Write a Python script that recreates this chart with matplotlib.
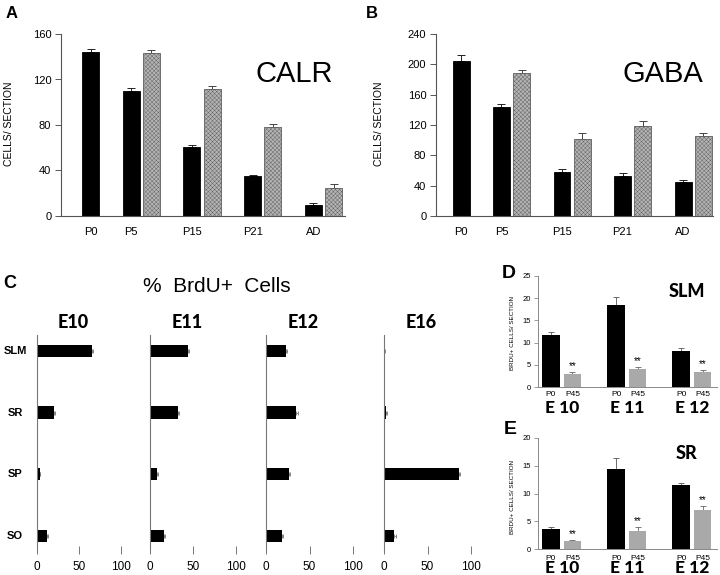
import matplotlib
matplotlib.use('Agg')
import matplotlib.pyplot as plt
from matplotlib.transforms import blended_transform_factory

plt.rcParams['font.family'] = ['Liberation Sans', 'DejaVu Sans']
plt.rcParams['hatch.linewidth'] = 0.3

# panel A / B : cells per section
ages = ['P0', 'P5', 'P15', 'P21', 'AD']
calr_black = [144, 110, 61, 35, 10]
calr_black_err = [3, 2.5, 1.5, 1, 1]
calr_hatch = [None, 143, 112, 78, 25]
calr_hatch_err = [None, 2.5, 2.5, 3, 3]
gaba_black = [205, 144, 58, 53, 45]
gaba_black_err = [7, 4, 4, 4, 2.5]
gaba_hatch = [None, 188, 102, 119, 106]
gaba_hatch_err = [None, 5, 7, 6, 4]

# panel C : % BrdU+ cells
layers = ['SLM', 'SR', 'SP', 'SO']
ages_c = ['E10', 'E11', 'E12', 'E16']
brdu = {
    'E10': [65, 20, 3, 12],
    'E11': [44, 32, 8, 16],
    'E12': [23, 35, 26, 18],
    'E16': [0.5, 2, 86, 12],
}
brdu_err = {
    'E10': [1.5, 1.5, 1, 1.5],
    'E11': [1.5, 1.5, 1, 1.5],
    'E12': [1.5, 1.5, 1.5, 1.5],
    'E16': [0.5, 1, 1.5, 1.5],
}

# panels D / E
groups_de = ['E 10', 'E 11', 'E 12']
slm_p0 = [11.8, 18.5, 8.1]
slm_p0_err = [0.7, 1.7, 0.6]
slm_p45 = [3.0, 4.0, 3.4]
slm_p45_err = [0.4, 0.4, 0.4]
sr_p0 = [3.6, 14.5, 11.5]
sr_p0_err = [0.3, 1.9, 0.4]
sr_p45 = [1.4, 3.3, 7.0]
sr_p45_err = [0.2, 0.6, 0.7]

W, H = 720, 575
fig = plt.figure(figsize=(7.2, 5.75), dpi=100)


def px_axes(x0, y0, x1, y1):
    return fig.add_axes([x0 / W, 1 - y1 / H, (x1 - x0) / W, (y1 - y0) / H])


def ftext(x, y, s, **kw):
    fig.text(x / W, 1 - y / H, s, **kw)


axis_col = '#555555'
hatch_face = '#b4b4b4'
hatch_edge = '#5e5e5e'
heavy = ['Lato', 'DejaVu Sans']


def cells_panel(rect, black, black_err, hatch, hatch_err, ymax, step, left, right, name):
    ax = px_axes(*rect)
    xb = [0, 1, 2.5, 4, 5.5]
    w = 0.42
    ax.bar(xb, black, w, color='black', edgecolor='black', linewidth=0.6, zorder=2)
    ax.errorbar(xb, black, yerr=[[0] * 5, black_err], fmt='none', ecolor='#222222',
                elinewidth=0.7, capsize=3, capthick=0.7, zorder=1)
    xh = [x + 0.5 for x, v in zip(xb, hatch) if v is not None]
    vh = [v for v in hatch if v is not None]
    eh = [e for e in hatch_err if e is not None]
    ax.bar(xh, vh, w, color=hatch_face, edgecolor=hatch_edge, hatch='xxxxxxxx',
           linewidth=0.6, zorder=2)
    ax.errorbar(xh, vh, yerr=[[0] * len(eh), eh], fmt='none', ecolor='#444444',
                elinewidth=0.7, capsize=3, capthick=0.7, zorder=1)
    ax.set_xlim(left, right)
    ax.set_ylim(0, ymax)
    ax.set_yticks(range(0, ymax + 1, step))
    ax.set_xticks(xb)
    ax.set_xticklabels(ages)
    for s in ['top', 'right']:
        ax.spines[s].set_visible(False)
    for s in ['left', 'bottom']:
        ax.spines[s].set_color(axis_col)
        ax.spines[s].set_linewidth(0.8)
    ax.tick_params(axis='y', length=4, width=0.7, color=axis_col, labelsize=8, pad=3)
    ax.tick_params(axis='x', length=0, labelsize=8, pad=8)
    ax.text(0.82, 0.78, name, transform=ax.transAxes, fontsize=21, ha='center', va='center')
    return ax


cells_panel((61, 34, 345, 216), calr_black, calr_black_err, calr_hatch, calr_hatch_err,
            160, 40, -0.73, 6.28, 'CALR')
cells_panel((436, 34, 713, 216), gaba_black, gaba_black_err, gaba_hatch, gaba_hatch_err,
            240, 40, -0.62, 6.24, 'GABA')
ftext(9, 124, 'CELLS/ SECTION', fontsize=7.5, rotation=90, ha='center', va='center')
ftext(379, 124, 'CELLS/ SECTION', fontsize=7.5, rotation=90, ha='center', va='center')

ftext(12, 13, 'A', fontsize=12, fontweight='bold', ha='center', va='center')
ftext(372, 13, 'B', fontsize=12, fontweight='bold', ha='center', va='center')

# panel C
ftext(10, 284, 'C', fontsize=13, fontweight='bold', ha='center', va='center')
ftext(217, 286, '%  BrdU+  Cells', fontsize=15, ha='center', va='center')
c_lefts = [(37, 121), (150, 236), (266, 353), (384, 471)]
for i, age in enumerate(ages_c):
    x0, x100 = c_lefts[i]
    ax = px_axes(x0, 335, x100 + 4, 550)
    ypos = list(range(len(layers)))
    ax.barh(ypos, brdu[age], height=0.2, color='black', zorder=2)
    ax.errorbar(brdu[age], ypos, xerr=[[0] * 4, brdu_err[age]], fmt='none',
                ecolor='#777777', elinewidth=0.6, capsize=1.5, capthick=0.6, zorder=1)
    ax.set_xlim(0, 100 * (x100 + 4 - x0) / (x100 - x0))
    ax.set_ylim(3.23, -0.26)
    ax.set_xticks([0, 50, 100])
    ax.set_yticks([])
    for s in ['top', 'right', 'bottom']:
        ax.spines[s].set_visible(False)
    ax.spines['left'].set_color('#777777')
    ax.spines['left'].set_linewidth(0.8)
    ax.tick_params(axis='x', direction='inout', length=6, width=0.7, color='#777777',
                   labelsize=8.5, pad=5)
    ftext((x0 + x100) / 2 - 6, 323, age, fontsize=13, fontweight='black',
          family=heavy, ha='center', va='center')
    if i == 0:
        tr = blended_transform_factory(fig.transFigure, ax.transData)
        for j, lay in enumerate(layers):
            ax.text(15 / W, j, lay, transform=tr, fontsize=8, fontweight='bold',
                    ha='center', va='center')


def small_panel(rect, p0, p0_err, p45, p45_err, ymax, name, label_y, group_y):
    ax = px_axes(*rect)
    x = [0, 1, 2]
    off = 0.33
    w = 0.27
    ax.bar(x, p0, w, color='black', zorder=2)
    ax.errorbar(x, p0, yerr=[[0] * 3, p0_err], fmt='none', ecolor='#555555',
                elinewidth=0.6, capsize=2.5, capthick=0.6, zorder=1)
    x45 = [v + off for v in x]
    ax.bar(x45, p45, w, color='#a9a9a9', zorder=2)
    ax.errorbar(x45, p45, yerr=[[0] * 3, p45_err], fmt='none', ecolor='#666666',
                elinewidth=0.6, capsize=2.5, capthick=0.6, zorder=1)
    for xi, v, e in zip(x45, p45, p45_err):
        ax.text(xi, v + e + 0.2, '**', fontsize=7, ha='center', va='bottom')
    ax.set_xlim(-0.2, 2.55)
    ax.set_ylim(0, ymax)
    ax.set_yticks(range(0, ymax + 1, 5))
    ax.set_xticks([])
    for s in ['top', 'right']:
        ax.spines[s].set_visible(False)
    for s in ['left', 'bottom']:
        ax.spines[s].set_color('#888888')
        ax.spines[s].set_linewidth(0.7)
    ax.tick_params(axis='y', length=3, width=0.6, color='#888888', labelsize=5.5, pad=2)
    ax.text(0.83, 0.86, name, transform=ax.transAxes, fontsize=13, fontweight='black',
            family=heavy, ha='center', va='center')
    tr = blended_transform_factory(ax.transData, fig.transFigure)
    for xi, g in zip(x, groups_de):
        ax.text(xi, 1 - label_y / H, 'P0', transform=tr, fontsize=6, ha='center', va='center')
        ax.text(xi + off, 1 - label_y / H, 'P45', transform=tr, fontsize=6,
                ha='center', va='center')
        ax.text(xi + off / 2, 1 - group_y / H, g, transform=tr, fontsize=12.5,
                fontweight='black', family=heavy, ha='center', va='center')
    return ax


small_panel((538, 276, 717, 387), slm_p0, slm_p0_err, slm_p45, slm_p45_err, 25, 'SLM', 394, 408)
small_panel((538, 438, 717, 549), sr_p0, sr_p0_err, sr_p45, sr_p45_err, 20, 'SR', 558, 568)
ftext(512, 333, 'BRDU+ CELLS/ SECTION', fontsize=4.5, rotation=90, ha='center', va='center')
ftext(512, 497, 'BRDU+ CELLS/ SECTION', fontsize=4.5, rotation=90, ha='center', va='center')
ftext(509, 273, 'D', fontsize=14, fontweight='bold', ha='center', va='center')
ftext(510, 430, 'E', fontsize=14, fontweight='bold', ha='center', va='center')

fig.savefig('out.png', dpi=100)
